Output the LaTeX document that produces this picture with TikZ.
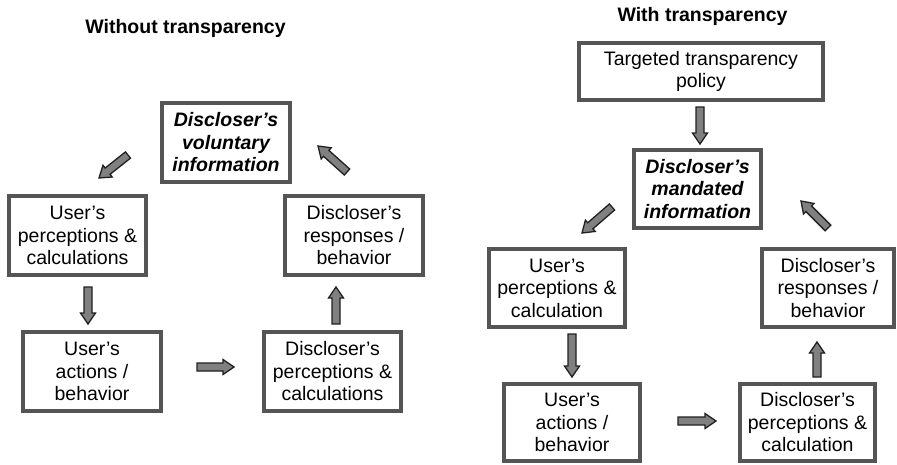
\documentclass[tikz,border=0pt]{standalone}
\usepackage{fontspec}
\setmainfont{Liberation Sans}
\usetikzlibrary{calc}
\definecolor{boxgray}{HTML}{555555}
\definecolor{arrowfill}{HTML}{808080}
\definecolor{arrowline}{HTML}{202020}
\begin{document}
\begin{tikzpicture}[x=1pt,y=-1pt,
  box/.style={draw=boxgray, line width=4pt, fill=white, align=center, inner sep=0pt,
    font=\fontsize{19.5}{22.5}\selectfont},
  titletext/.style={font=\fontsize{19.5}{22.5}\selectfont\bfseries, anchor=base, inner sep=0pt},
  blockarrow/.style={draw=arrowline, fill=arrowfill, line width=1.3pt, line join=miter,
    to path={let \p1=(\tikztostart), \p2=(\tikztotarget),
      \n1={atan2(\y2-\y1,\x2-\x1)}, \n2={veclen(\x2-\x1,\y2-\y1)-11pt},
      \n3={\n1+90}, \n4={\n1-90} in
      ($(\p1)+(\n3:4pt)$) -- ($(\p1)+(\n1:\n2)+(\n3:4pt)$)
      -- ($(\p1)+(\n1:\n2)+(\n3:7.5pt)$) -- (\p2)
      -- ($(\p1)+(\n1:\n2)+(\n4:7.5pt)$) -- ($(\p1)+(\n1:\n2)+(\n4:4pt)$)
      -- ($(\p1)+(\n4:4pt)$) -- cycle}}]
\useasboundingbox (0,0) rectangle (897,464);

% ---------- Left panel ----------
\node[titletext] (t1) at (185.5,33) {Without transparency};

\node[box, minimum width=128pt, minimum height=79pt] (vol) at (226,142.5)
  {\bfseries\itshape Discloser’s\\\bfseries\itshape voluntary\\\bfseries\itshape information};
\node[box, minimum width=137pt, minimum height=79pt] (upc) at (77.5,235.5)
  {User’s\\perceptions \&\\calculations};
\node[box, minimum width=138pt, minimum height=79pt] (dresp) at (354,235.5)
  {Discloser’s\\responses /\\behavior};
\node[box, minimum width=138pt, minimum height=79pt] (uact) at (92,371.5)
  {User’s\\actions /\\behavior};
\node[box, minimum width=137pt, minimum height=79pt] (dperc) at (332.5,371.5)
  {Discloser’s\\perceptions \&\\calculations};

\coordinate (a1s) at (128,155);  \coordinate (a1e) at (99,178);
\coordinate (a2s) at (88,287);   \coordinate (a2e) at (88,324);
\coordinate (a3s) at (197,367);  \coordinate (a3e) at (234,367);
\coordinate (a4s) at (336,324);  \coordinate (a4e) at (336,287);
\coordinate (a5s) at (347,172);  \coordinate (a5e) at (318,146);
\path[blockarrow] (a1s) to (a1e);
\path[blockarrow] (a2s) to (a2e);
\path[blockarrow] (a3s) to (a3e);
\path[blockarrow] (a4s) to (a4e);
\path[blockarrow] (a5s) to (a5e);

% ---------- Right panel ----------
\node[titletext] (t2) at (702.5,21) {With transparency};

\node[box, minimum width=244pt, minimum height=57pt] (pol) at (701,71.5)
  {Targeted transparency\\policy};
\node[box, minimum width=127pt, minimum height=78pt] (mand) at (697.5,189)
  {\bfseries\itshape Discloser’s\\\bfseries\itshape mandated\\\bfseries\itshape information};
\node[box, minimum width=136pt, minimum height=78pt] (upc2) at (557,288)
  {User’s\\perceptions \&\\calculation};
\node[box, minimum width=132pt, minimum height=78pt] (dresp2) at (828,288)
  {Discloser’s\\responses /\\behavior};
\node[box, minimum width=136pt, minimum height=77pt] (uact2) at (572,422.5)
  {User’s\\actions /\\behavior};
\node[box, minimum width=135pt, minimum height=77pt] (dperc2) at (807.5,422.5)
  {Discloser’s\\perceptions \&\\calculation};

\coordinate (b0s) at (700,107);  \coordinate (b0e) at (700,144);
\coordinate (b1s) at (612,207);  \coordinate (b1e) at (582,233);
\coordinate (b2s) at (572,334);  \coordinate (b2e) at (572,377);
\coordinate (b3s) at (678,421);  \coordinate (b3e) at (716,421);
\coordinate (b4s) at (817,377);  \coordinate (b4e) at (817,342);
\coordinate (b5s) at (828,228);  \coordinate (b5e) at (801,201);
\path[blockarrow] (b0s) to (b0e);
\path[blockarrow] (b1s) to (b1e);
\path[blockarrow] (b2s) to (b2e);
\path[blockarrow] (b3s) to (b3e);
\path[blockarrow] (b4s) to (b4e);
\path[blockarrow] (b5s) to (b5e);
\end{tikzpicture}
\end{document}
